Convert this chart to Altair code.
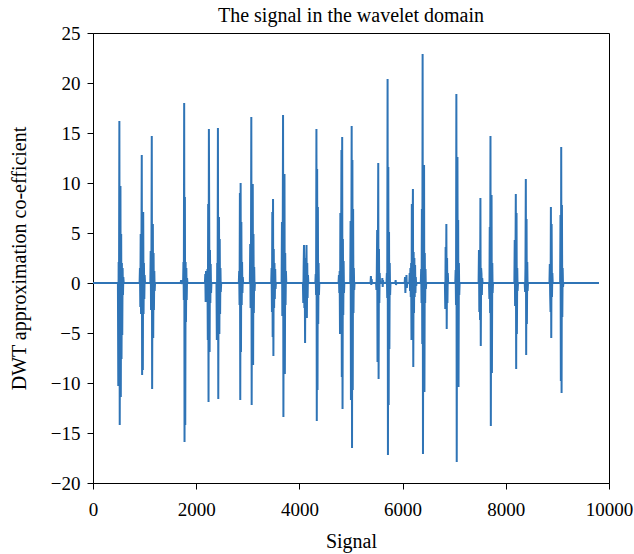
import altair as alt
import pandas as pd

# Approximation coefficients: the signal is zero except for short bursts.
# Each burst is (first sample index, coefficient values at a fixed stride).
STRIDE = 7
SIGNAL_END = 9806

burst_starts = [
    483, 903, 1111, 1700, 1746, 2169, 2393, 2826, 3040, 3454, 3655, 4068,
    4309, 4759, 4985, 5379, 5486, 5600, 5688, 5858, 6040, 6130, 6353, 6820,
    7021, 7473, 7675, 8166, 8367, 8846, 9053,
]

burst_values = [
    [0, -10.3, 2.1, -1.4, 16.2, -14.2, 3.0, 9.7, -11.4, 4.9, -7.6, 2.0, -5.2, 1.5, -1.2, 0.6, 0],
    [0, 1.5, -2.4, 4.9, -3.1, 2.3, 12.8, -9.2, 3.1, -8.7, 7.1, -3.1, 2.0, -1.6, 0.8, 0],
    [0, 3.2, -2.7, 1.8, 14.7, -10.6, 2.5, 5.9, -5.5, 3.0, -2.7, 1.2, -0.8, 0],
    [0, 0.3, -0.1, 0],
    [0, 2.1, -1.7, 18.0, -15.9, 8.6, -14.2, 2.1, -3.9, 1.5, -1.7, 0.5, 0],
    [0, 0.9, -1.9, 1.2, -1.5, 0.8, -1.0, 1.4, -5.7, 7.9, -11.9, 15.4, 5.1, -6.9, 3.3, -2.0, 1.9, -1.0, 0],
    [0, -5.7, 2.0, -3.1, 15.5, -11.6, 4.0, 6.6, -5.1, 4.4, -3.1, 1.5, -0.9, 0],
    [0, 1.2, -2.2, 9.0, -11.7, 10.0, -6.9, 6.1, -2.2, 2.1, -1.0, 0.6, 0],
    [0, 3.9, -2.5, 1.8, 16.6, -12.2, 4.0, -7.1, 9.9, -8.2, 4.9, -3.0, 1.6, -0.8, 0],
    [0, 1.5, -2.9, 7.1, -5.4, 8.4, -7.3, 3.4, -2.5, 2.0, -1.6, 1.4, -0.6, 0],
    [0, 6.1, -3.3, 2.0, 16.8, -13.4, 4.5, -3.0, 10.9, -9.1, 3.0, -2.2, 1.2, 0],
    [0, -2.0, 1.5, 3.8, -2.5, 1.2, -6.0, 2.5, -3.0, 1.8, 3.8, -3.5, 2.0, -1.5, 0.8, 0],
    [0, 0.9, -1.2, 15.4, -13.8, 11.4, -10.7, 7.6, -4.1, 2.0, -1.2, 0],
    [0, 0.8, -1.0, 1.2, -5.1, 7.0, -3.0, 2.5, 13.3, -9.4, 14.6, -12.6, 4.4, -3.2, 2.2, -1.0, 0],
    [0, 6.2, -11.7, 2.0, 15.7, -16.5, 12.3, -10.7, 7.4, -3.0, 1.5, -0.7, 0],
    [0, 0.7, -0.2, 0.4, 0],
    [0, -0.7, 1.0, 5.3, -7.9, 2.0, 12.0, -9.6, 3.4, -2.0, 1.0, 0],
    [0, 0.5, -0.4, 0.3, 0],
    [0, 1.0, -1.5, 20.4, -17.2, 11.6, -12.2, 5.1, -6.6, 2.0, -1.2, 0],
    [0, 0.3, -0.2, 0],
    [0, 0.6, -1.0, 0.4, -0.3, 0.8, -0.5, 0],
    [0, 1.0, -0.8, 1.5, -1.4, 2.0, -5.7, 7.9, -2.5, 4.0, 9.4, -8.4, 3.1, -3.0, 2.5, -1.4, 1.8, -1.0, 0.6, -0.3, 0],
    [0, 1.4, -2.0, 7.4, -6.1, 22.9, -17.1, 4.0, -3.0, 11.8, -10.9, 3.0, -2.0, 1.4, -0.6, 0],
    [0, -2.6, 3.6, -1.5, 5.9, -4.6, 2.5, -2.0, 1.0, 0],
    [0, 1.3, -2.2, 18.9, -17.9, 4.0, 12.6, -6.0, 6.3, -10.4, 2.0, -1.2, 0],
    [0, 3.3, -2.9, 2.0, -3.7, 8.5, -6.3, 1.5, 0.9, -1.2, 0.5, 0],
    [0, -1.6, 5.6, -3.0, 14.7, -14.3, 3.0, 8.8, -9.0, 2.0, -1.0, 0],
    [0, 4.3, -2.3, 1.5, 8.9, -8.6, 7.0, -5.1, 1.5, -0.8, 0],
    [0, -0.9, 1.5, 10.4, -7.2, 6.4, -4.1, 2.1, -0.8, 0],
    [0, 1.9, -1.2, -2.9, 7.6, -5.5, 5.9, -1.4, 1.0, 0],
    [0, 6.8, -9.8, 13.6, -11.0, 7.8, -3.4, 1.5, -0.4, 0],
]

x_ticks = [0, 2000, 4000, 6000, 8000, 10000]
y_ticks = [-20, -15, -10, -5, 0, 5, 10, 15, 20, 25]

rows = [{"idx": 0, "coeff": 0.0}]
for start, vals in zip(burst_starts, burst_values):
    for i, v in enumerate(vals):
        rows.append({"idx": start + i * STRIDE, "coeff": v})
rows.append({"idx": SIGNAL_END, "coeff": 0.0})
df = pd.DataFrame(rows)

FONT = "Liberation Serif"

chart = (
    alt.Chart(df)
    .mark_line(color="#2f74b6", strokeWidth=2)
    .encode(
        x=alt.X(
            "idx:Q",
            title="Signal",
            scale=alt.Scale(domain=[0, 10000], nice=False, zero=False),
            axis=alt.Axis(values=x_ticks, format="d", labelFlush=False,
                          labelPadding=11, titlePadding=12),
        ),
        y=alt.Y(
            "coeff:Q",
            title="DWT approximation co-efficient",
            scale=alt.Scale(domain=[-20, 25], nice=False),
            axis=alt.Axis(values=y_ticks, format="d", labelFlush=False,
                          labelPadding=7, titlePadding=21),
        ),
        order="idx:Q",
    )
    .properties(
        width=516,
        height=450,
        title=alt.TitleParams(
            "The signal in the wavelet domain",
            font=FONT,
            fontSize=20,
            fontWeight="normal",
            color="black",
            anchor="middle",
            frame="group",
            offset=-2,
        ),
        autosize=alt.AutoSizeParams(type="none"),
        padding={"left": 93, "top": 33, "right": 25, "bottom": 71},
    )
    .configure_view(stroke="black", strokeWidth=1)
    .configure_axis(
        grid=False,
        domainColor="black",
        domainWidth=1,
        tickColor="black",
        tickSize=6,
        labelFont=FONT,
        labelFontSize=19,
        labelColor="black",
        titleFont=FONT,
        titleFontSize=20,
        titleFontWeight="normal",
        titleColor="black",
    )
)

chart.save("out.html", embed_options={"renderer": "svg", "actions": False})
